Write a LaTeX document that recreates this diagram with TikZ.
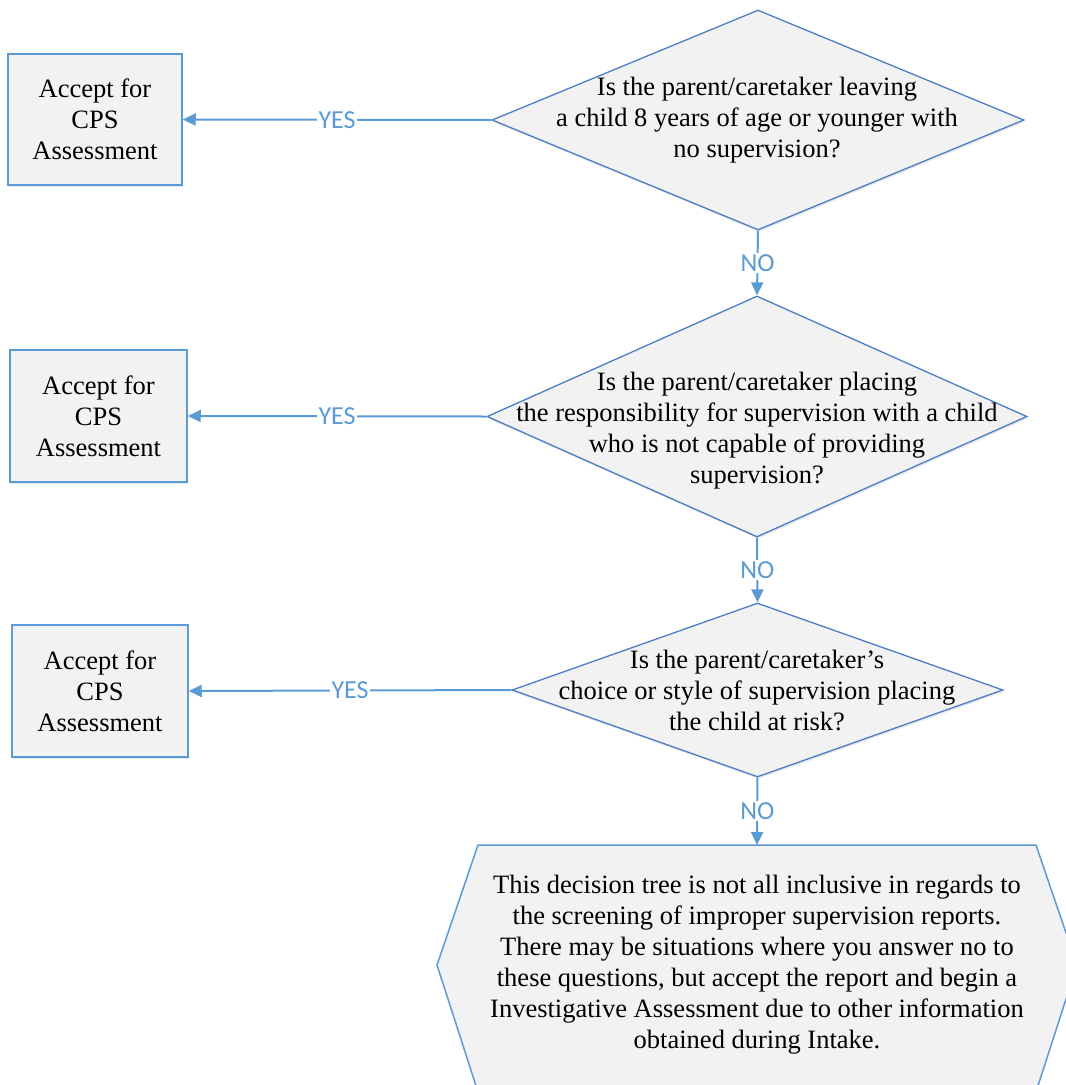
\documentclass[tikz,border=0pt]{standalone}
\usepackage{fontspec}
\setmainfont{Liberation Serif}
\newfontfamily\lblfont{Carlito}
\usetikzlibrary{shapes.geometric,arrows.meta,shadows}
\definecolor{edgeblue}{HTML}{5B9BD5}
\definecolor{diablue}{HTML}{4A7EC8}
\definecolor{shapefill}{HTML}{F2F2F2}
\begin{document}
\begin{tikzpicture}[x=1pt,y=-1pt,
  bodyfont/.style={font=\fontsize{26.5}{31}\selectfont},
  acceptbox/.style={draw=edgeblue, line width=1.5pt, fill=shapefill, inner sep=0pt,
    align=center, bodyfont, drop shadow={shadow xshift=1pt, shadow yshift=-2pt, fill=black!25, opacity=0.35}},
  question/.style={diamond, draw=diablue, line width=1.3pt, fill=shapefill, inner sep=0pt,
    drop shadow={shadow xshift=1pt, shadow yshift=-2pt, fill=black!25, opacity=0.35}},
  qtext/.style={align=center, bodyfont, inner sep=0pt},
  conn/.style={draw=edgeblue, line width=2pt, -{Triangle[length=13pt,width=12pt]}},
  lbl/.style={fill=white, inner sep=1.5pt, text=edgeblue, font=\lblfont\fontsize{26}{28}\selectfont}
]
\useasboundingbox (0,0) rectangle (1066,1085);
\clip (0,0) rectangle (1066,1085);

% accept boxes
\node[acceptbox, minimum width=174pt, minimum height=131pt] (b1) at (95,119.5) {Accept for\\CPS\\Assessment};
\node[acceptbox, minimum width=177pt, minimum height=132pt] (b2) at (98.5,416) {Accept for\\CPS\\Assessment};
\node[acceptbox, minimum width=176pt, minimum height=132pt] (b3) at (100,691) {Accept for\\CPS\\Assessment};

% decision diamonds
\node[question, minimum width=532pt, minimum height=220pt] (d1) at (758,120) {};
\node[qtext] (t1) at (757,120) {Is the parent/caretaker leaving\\a child 8 years of age or younger with\\no supervision?};

\node[question, minimum width=540pt, minimum height=241pt] (d2) at (757,416.5) {};
\node[qtext] (t2) at (757,431) {Is the parent/caretaker placing\\the responsibility for supervision with a child\\who is not capable of providing\\supervision?};

\node[question, minimum width=491pt, minimum height=174pt] (d3) at (757.5,690) {};
\node[qtext] (t3) at (757,690) {Is the parent/caretaker’s\\choice or style of supervision placing\\the child at risk?};

% final hexagon note
\draw[draw=edgeblue, line width=1.5pt, fill=shapefill]
  (478,845) -- (1036,845) -- (1077,965) -- (1036,1092) -- (478,1092) -- (437,965) -- cycle;
\coordinate (hx) at (757,845);
\node[qtext] (t4) at (757,965) {This decision tree is not all inclusive in regards to\\the screening of improper supervision reports.\\There may be situations where you answer no to\\these questions, but accept the report and begin a\\Investigative Assessment due to other information\\obtained during Intake.};

% connectors
\draw[conn] (d1.west) -- node[lbl] {YES} (b1.east);
\draw[conn] (d2.west) -- node[lbl] {YES} (b2.east);
\draw[conn] (d3.west) -- node[lbl] {YES} (b3.east);
\draw[conn] (d1.south) -- node[lbl] {NO} (d2.north);
\draw[conn] (d2.south) -- node[lbl] {NO} (d3.north);
\draw[conn] (d3.south) -- node[lbl] {NO} (hx);
\end{tikzpicture}
\end{document}
